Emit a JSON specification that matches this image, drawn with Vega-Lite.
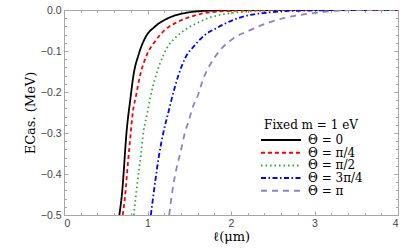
{
  "$schema": "https://vega.github.io/schema/vega-lite/v6.json",
  "width": 334,
  "height": 205,
  "autosize": {"type": "none"},
  "padding": {"left": 64, "top": 10, "right": 9, "bottom": 34},
  "background": "white",
  "config": {
    "view": {"stroke": "#a6a6a6", "strokeWidth": 1},
    "axis": {"domain": false, "grid": false, "tickColor": "#a6a6a6", "tickWidth": 1}
  },
  "data": {
    "values": [
      {"l": 0.663, "E": -0.5, "s": "Θ = 0"},
      {"l": 0.693, "E": -0.451, "s": "Θ = 0"},
      {"l": 0.753, "E": -0.289, "s": "Θ = 0"},
      {"l": 0.793, "E": -0.22, "s": "Θ = 0"},
      {"l": 0.833, "E": -0.158, "s": "Θ = 0"},
      {"l": 0.893, "E": -0.109, "s": "Θ = 0"},
      {"l": 0.972, "E": -0.068, "s": "Θ = 0"},
      {"l": 1.092, "E": -0.04, "s": "Θ = 0"},
      {"l": 1.252, "E": -0.0195, "s": "Θ = 0"},
      {"l": 1.452, "E": -0.0073, "s": "Θ = 0"},
      {"l": 1.73, "E": -0.0017, "s": "Θ = 0"},
      {"l": 2.1, "E": -0.0004, "s": "Θ = 0"},
      {"l": 2.6, "E": 0, "s": "Θ = 0"},
      {"l": 4.0, "E": 0, "s": "Θ = 0"},

      {"l": 0.703, "E": -0.5, "s": "Θ = π/4"},
      {"l": 0.733, "E": -0.451, "s": "Θ = π/4"},
      {"l": 0.76, "E": -0.386, "s": "Θ = π/4"},
      {"l": 0.793, "E": -0.313, "s": "Θ = π/4"},
      {"l": 0.825, "E": -0.248, "s": "Θ = π/4"},
      {"l": 0.862, "E": -0.21, "s": "Θ = π/4"},
      {"l": 0.913, "E": -0.158, "s": "Θ = π/4"},
      {"l": 0.993, "E": -0.109, "s": "Θ = π/4"},
      {"l": 1.092, "E": -0.076, "s": "Θ = π/4"},
      {"l": 1.212, "E": -0.048, "s": "Θ = π/4"},
      {"l": 1.372, "E": -0.028, "s": "Θ = π/4"},
      {"l": 1.571, "E": -0.013, "s": "Θ = π/4"},
      {"l": 1.771, "E": -0.005, "s": "Θ = π/4"},
      {"l": 2.1, "E": -0.0015, "s": "Θ = π/4"},
      {"l": 2.6, "E": -0.0003, "s": "Θ = π/4"},
      {"l": 3.0, "E": 0, "s": "Θ = π/4"},
      {"l": 4.0, "E": 0, "s": "Θ = π/4"},

      {"l": 0.835, "E": -0.5, "s": "Θ = π/2"},
      {"l": 0.88, "E": -0.419, "s": "Θ = π/2"},
      {"l": 0.92, "E": -0.354, "s": "Θ = π/2"},
      {"l": 0.952, "E": -0.297, "s": "Θ = π/2"},
      {"l": 0.993, "E": -0.256, "s": "Θ = π/2"},
      {"l": 1.035, "E": -0.212, "s": "Θ = π/2"},
      {"l": 1.092, "E": -0.166, "s": "Θ = π/2"},
      {"l": 1.152, "E": -0.129, "s": "Θ = π/2"},
      {"l": 1.232, "E": -0.093, "s": "Θ = π/2"},
      {"l": 1.332, "E": -0.068, "s": "Θ = π/2"},
      {"l": 1.452, "E": -0.048, "s": "Θ = π/2"},
      {"l": 1.591, "E": -0.032, "s": "Θ = π/2"},
      {"l": 1.751, "E": -0.018, "s": "Θ = π/2"},
      {"l": 1.95, "E": -0.009, "s": "Θ = π/2"},
      {"l": 2.2, "E": -0.004, "s": "Θ = π/2"},
      {"l": 2.6, "E": -0.001, "s": "Θ = π/2"},
      {"l": 3.0, "E": -0.0002, "s": "Θ = π/2"},
      {"l": 4.0, "E": 0, "s": "Θ = π/2"},

      {"l": 1.04, "E": -0.5, "s": "Θ = 3π/4"},
      {"l": 1.06, "E": -0.468, "s": "Θ = 3π/4"},
      {"l": 1.092, "E": -0.419, "s": "Θ = 3π/4"},
      {"l": 1.132, "E": -0.362, "s": "Θ = 3π/4"},
      {"l": 1.192, "E": -0.297, "s": "Θ = 3π/4"},
      {"l": 1.252, "E": -0.248, "s": "Θ = 3π/4"},
      {"l": 1.292, "E": -0.215, "s": "Θ = 3π/4"},
      {"l": 1.372, "E": -0.158, "s": "Θ = 3π/4"},
      {"l": 1.452, "E": -0.117, "s": "Θ = 3π/4"},
      {"l": 1.571, "E": -0.085, "s": "Θ = 3π/4"},
      {"l": 1.691, "E": -0.06, "s": "Θ = 3π/4"},
      {"l": 1.81, "E": -0.046, "s": "Θ = 3π/4"},
      {"l": 2.03, "E": -0.024, "s": "Θ = 3π/4"},
      {"l": 2.23, "E": -0.012, "s": "Θ = 3π/4"},
      {"l": 2.43, "E": -0.0066, "s": "Θ = 3π/4"},
      {"l": 2.63, "E": -0.003, "s": "Θ = 3π/4"},
      {"l": 3.0, "E": -0.001, "s": "Θ = 3π/4"},
      {"l": 3.4, "E": -0.0002, "s": "Θ = 3π/4"},
      {"l": 4.0, "E": 0, "s": "Θ = 3π/4"},

      {"l": 1.26, "E": -0.5, "s": "Θ = π"},
      {"l": 1.3, "E": -0.439, "s": "Θ = π"},
      {"l": 1.352, "E": -0.382, "s": "Θ = π"},
      {"l": 1.392, "E": -0.35, "s": "Θ = π"},
      {"l": 1.451, "E": -0.297, "s": "Θ = π"},
      {"l": 1.491, "E": -0.272, "s": "Θ = π"},
      {"l": 1.551, "E": -0.232, "s": "Θ = π"},
      {"l": 1.591, "E": -0.215, "s": "Θ = π"},
      {"l": 1.671, "E": -0.166, "s": "Θ = π"},
      {"l": 1.751, "E": -0.133, "s": "Θ = π"},
      {"l": 1.87, "E": -0.098, "s": "Θ = π"},
      {"l": 2.03, "E": -0.069, "s": "Θ = π"},
      {"l": 2.23, "E": -0.049, "s": "Θ = π"},
      {"l": 2.43, "E": -0.032, "s": "Θ = π"},
      {"l": 2.63, "E": -0.02, "s": "Θ = π"},
      {"l": 2.83, "E": -0.012, "s": "Θ = π"},
      {"l": 3.03, "E": -0.0066, "s": "Θ = π"},
      {"l": 3.22, "E": -0.0024, "s": "Θ = π"},
      {"l": 3.43, "E": -0.0005, "s": "Θ = π"},
      {"l": 3.7, "E": 0, "s": "Θ = π"},
      {"l": 4.0, "E": 0, "s": "Θ = π"}
    ]
  },
  "layer": [
    {
      "mark": {"type": "line", "interpolate": "monotone", "strokeWidth": 1.8, "clip": true},
      "encoding": {
        "x": {
          "field": "l", "type": "quantitative",
          "scale": {"domain": [0, 4], "nice": false, "zero": false},
          "axis": {
            "orient": "bottom", "values": [0, 1, 2, 3, 4], "format": "d",
            "tickSize": -4, "labelPadding": 7,
            "labelFont": "Liberation Sans", "labelFontSize": 10.5, "labelColor": "#444444",
            "title": "ℓ(μm)", "titleFont": "DejaVu Serif", "titleFontSize": 13,
            "titleFontWeight": "normal", "titleColor": "#000000", "titlePadding": 2
          }
        },
        "y": {
          "field": "E", "type": "quantitative",
          "scale": {"domain": [-0.5, 0], "nice": false, "zero": false},
          "axis": {
            "orient": "left", "values": [-0.5, -0.4, -0.3, -0.2, -0.1, 0], "format": ".1f",
            "tickSize": -4, "labelPadding": 7,
            "labelFont": "Liberation Sans", "labelFontSize": 10.5, "labelColor": "#444444",
            "title": "ECas. (MeV)", "titleFont": "DejaVu Serif", "titleFontSize": 13,
            "titleFontWeight": "normal", "titleColor": "#000000", "titlePadding": 3
          }
        },
        "color": {
          "field": "s", "type": "nominal",
          "scale": {
            "domain": ["Θ = 0", "Θ = π/4", "Θ = π/2", "Θ = 3π/4", "Θ = π"],
            "range": ["#000000", "#ff0000", "#2aaa2a", "#0000ff", "#8a85c0"]
          },
          "legend": {
            "orient": "none", "legendX": 196, "legendY": 110,
            "title": "Fixed m = 1 eV", "titleFont": "DejaVu Serif", "titleFontSize": 12,
            "titleFontWeight": "normal", "titleColor": "#000000", "titleAnchor": "middle",
            "titlePadding": 2,
            "labelFont": "DejaVu Serif", "labelFontSize": 12, "labelColor": "#000000",
            "symbolType": "stroke", "symbolSize": 1600, "symbolStrokeWidth": 2,
            "clipHeight": 12, "rowPadding": 0.7, "labelOffset": 6
          }
        },
        "strokeDash": {
          "field": "s", "type": "nominal",
          "scale": {
            "domain": ["Θ = 0", "Θ = π/4", "Θ = π/2", "Θ = 3π/4", "Θ = π"],
            "range": [[1, 0], [4, 3], [1.5, 3], [5, 2.5, 1.5, 2.5], [6, 5]]
          },
          "legend": null
        }
      }
    },
    {
      "mark": {"type": "line", "opacity": 0},
      "encoding": {
        "x": {"field": "l", "type": "quantitative",
          "axis": {"orient": "bottom", "values": [0.2, 0.4, 0.6, 0.8, 1.2, 1.4, 1.6, 1.8, 2.2, 2.4, 2.6, 2.8, 3.2, 3.4, 3.6, 3.8],
            "tickSize": -2.5, "labels": false, "title": null}},
        "y": {"field": "E", "type": "quantitative",
          "axis": {"orient": "left", "values": [-0.02, -0.04, -0.06, -0.08, -0.12, -0.14, -0.16, -0.18, -0.22, -0.24, -0.26, -0.28, -0.32, -0.34, -0.36, -0.38, -0.42, -0.44, -0.46, -0.48],
            "tickSize": -2.5, "labels": false, "title": null}}
      }
    },
    {
      "mark": {"type": "line", "opacity": 0},
      "encoding": {
        "x": {"field": "l", "type": "quantitative",
          "axis": {"orient": "top", "values": [0, 1, 2, 3, 4], "tickSize": -4, "labels": false, "title": null}},
        "y": {"field": "E", "type": "quantitative",
          "axis": {"orient": "right", "values": [-0.5, -0.4, -0.3, -0.2, -0.1, 0], "tickSize": -4, "labels": false, "title": null}}
      }
    },
    {
      "mark": {"type": "line", "opacity": 0},
      "encoding": {
        "x": {"field": "l", "type": "quantitative",
          "axis": {"orient": "top", "values": [0.2, 0.4, 0.6, 0.8, 1.2, 1.4, 1.6, 1.8, 2.2, 2.4, 2.6, 2.8, 3.2, 3.4, 3.6, 3.8],
            "tickSize": -2.5, "labels": false, "title": null}},
        "y": {"field": "E", "type": "quantitative",
          "axis": {"orient": "right", "values": [-0.02, -0.04, -0.06, -0.08, -0.12, -0.14, -0.16, -0.18, -0.22, -0.24, -0.26, -0.28, -0.32, -0.34, -0.36, -0.38, -0.42, -0.44, -0.46, -0.48],
            "tickSize": -2.5, "labels": false, "title": null}}
      }
    }
  ],
  "resolve": {"axis": {"x": "independent", "y": "independent"}}
}
